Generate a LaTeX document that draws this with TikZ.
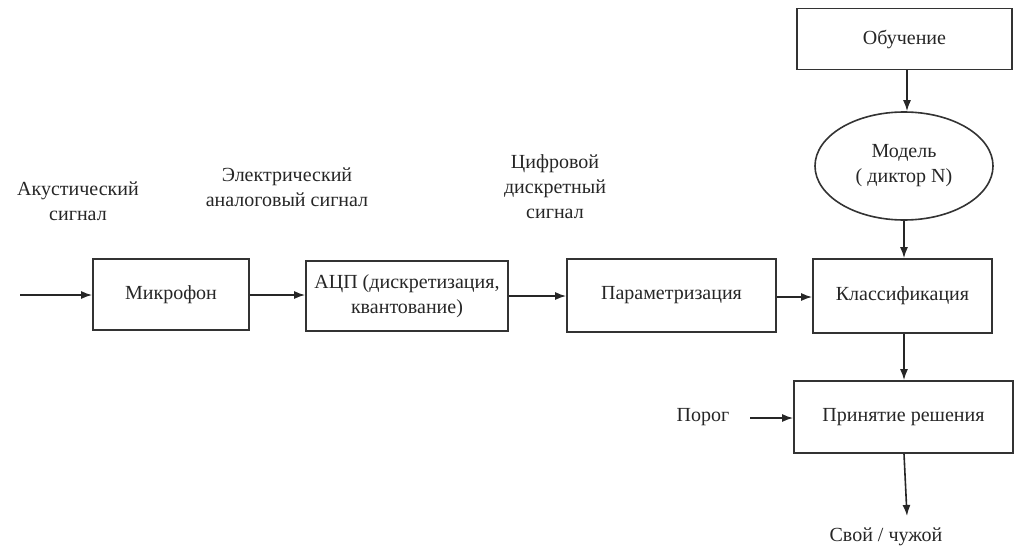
\documentclass[tikz,border=0pt]{standalone}
\usepackage{fontspec}
\setmainfont{Liberation Serif}
\usetikzlibrary{arrows.meta,shapes.geometric}
\begin{document}
\begin{tikzpicture}[x=1pt,y=-1pt,
  every node/.style={font=\fontsize{20}{25}\selectfont, text=black!85, align=center, inner sep=0pt},
  block/.style={draw=black!80, line width=1.7pt, rectangle, minimum width=#1, minimum height=72pt},
  block/.default=160pt,
  conn/.style={draw=black!85, line width=1.6pt, -{Latex[length=11pt,width=8pt]}},
  lbl/.style={}
]
\useasboundingbox (0,0) rectangle (1017,546);

% main signal chain
\node[block=156pt, minimum height=71pt] (mic)   at (171,294.5) {Микрофон};
\node[block=202pt, minimum height=70pt] (adc)   at (407,296)   {АЦП (дискретизация,\\квантование)};
\node[block=209pt, minimum height=73pt] (param) at (671.5,295.5) {Параметризация};
\node[block=179pt, minimum height=74pt] (cls)   at (902.5,296) {Классификация};
\node[block=219pt, minimum height=72pt] (dec)   at (903.5,417) {Принятие решения};

% training branch
\node[block=215pt, minimum height=61pt] (train) at (904.5,39)  {Обучение};
\node[draw=black!80, line width=1.6pt, ellipse, minimum width=178pt, minimum height=108pt] (model) at (904,166) {Модель\\( диктор N)};

% signal labels
\node[lbl] (acoust) at (78,201)  {Акустический\\сигнал};
\node[lbl] (elec)   at (287,187) {Электрический\\аналоговый сигнал};
\node[lbl] (digit)  at (555,187) {Цифровой\\дискретный\\сигнал};
\node[lbl] (thr)    at (703,417) {Порог};
\node[lbl] (out)    at (886,537) {Свой / чужой};

% free ends of connectors
\coordinate (in)   at (20,295);
\coordinate (thrA) at (750,418);
\coordinate (outA) at (907,516);

% connectors
\draw[conn] (in) -- (mic.west |- in);
\draw[conn] (mic.east |- 0,295) -- (adc.west |- 0,295);
\draw[conn] (adc.east |- 0,296) -- (param.west |- 0,296);
\draw[conn] (param.east |- 0,297) -- (cls.west |- 0,297);
\draw[conn] (train.south -| 907,0) -- (model.north -| 907,0);
\draw[conn] (model.south) -- (cls.north -| model.south);
\draw[conn] (cls.south -| 904,0) -- (dec.north -| 904,0);
\draw[conn] (thrA) -- (dec.west |- thrA);
\draw[conn] (dec.south -| 904,0) -- (outA);
\end{tikzpicture}
\end{document}
